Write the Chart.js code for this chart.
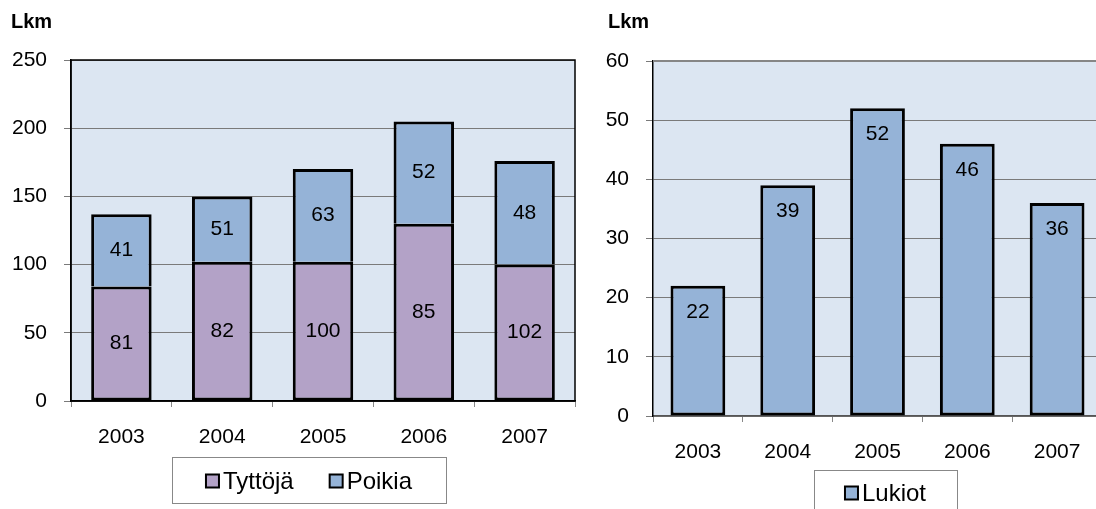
<!DOCTYPE html>
<html>
<head>
<meta charset="utf-8">
<script src="https://cdn.jsdelivr.net/npm/chart.js@4"></script>
<style>
  body { margin: 0; background: #fff; width: 1096px; height: 509px; overflow: hidden; position: relative; }
  #left { position: absolute; left: 0; top: 0; }
  #right { position: absolute; left: 560px; top: 0; }
</style>
</head>
<body>
<canvas id="left" width="600" height="509"></canvas>
<canvas id="right" width="560" height="509"></canvas>
<script>
const years = ['2003', '2004', '2005', '2006', '2007'];

// bar heights as they are drawn in the picture
const tyttoja = [84, 102, 102, 130, 100];
const poikia = [53, 48, 68, 75, 76];
// numbers printed inside the bars (they don't match the heights)
const tyttojaLabels = [81, 82, 100, 85, 102];
const poikiaLabels = [41, 51, 63, 52, 48];

const lukiot = [22, 39, 52, 46, 36];

Chart.defaults.font.family = '"Liberation Sans", Arial, sans-serif';
Chart.defaults.color = '#000';

const PLOT_BG = '#DCE6F2';
const PURPLE = '#B3A2C7';
const BLUE = '#95B3D7';

// background, frame, "Lkm", value labels and boxed legend
const excelLook = {
  id: 'excelLook',
  beforeDraw(chart, args, o) {
    const { ctx, chartArea: a } = chart;
    ctx.save();
    ctx.fillStyle = PLOT_BG;
    ctx.fillRect(a.left, a.top, a.right - a.left, a.bottom - a.top);
    ctx.restore();
  },
  afterDatasetsDraw(chart, args, o) {
    const { ctx, chartArea: a } = chart;
    ctx.save();

    // frame round the plot
    if (o.frame) {
      ctx.strokeStyle = '#000';
      ctx.lineWidth = 1.5;
      ctx.strokeRect(a.left, a.top, a.right - a.left, a.bottom - a.top);
    } else {
      ctx.strokeStyle = '#868686';
      ctx.lineWidth = 2;
      ctx.beginPath();
      ctx.moveTo(a.left, a.top);
      ctx.lineTo(a.right, a.top);
      ctx.stroke();
    }

    // value labels
    ctx.font = '21px "Liberation Sans", Arial, sans-serif';
    ctx.fillStyle = '#000';
    ctx.textAlign = 'center';
    ctx.textBaseline = 'middle';
    chart.data.datasets.forEach((ds, i) => {
      chart.getDatasetMeta(i).data.forEach((bar, j) => {
        const txt = ds.valueLabels[j];
        const y = o.labelPos === 'center' ? (bar.y + bar.base) / 2 : bar.y + 26;
        ctx.fillText(txt, bar.x, y);
      });
    });

    // axis title
    ctx.font = 'bold 20px "Liberation Sans", Arial, sans-serif';
    ctx.textAlign = 'left';
    ctx.fillText('Lkm', o.titleX, 22);

    // legend in a box
    const lg = o.legend;
    ctx.strokeStyle = '#888';
    ctx.lineWidth = 1;
    ctx.strokeRect(lg.x + 0.5, lg.y + 0.5, lg.w, lg.h);
    ctx.font = '24px "Liberation Sans", Arial, sans-serif';
    const sw = 13, gapTxt = 4, gapItem = 36;
    const widths = chart.data.datasets.map(ds => sw + gapTxt + ctx.measureText(ds.label).width);
    const total = widths.reduce((s, w) => s + w, 0) + gapItem * (widths.length - 1);
    let x = lg.x + (lg.w - total) / 2;
    const cy = lg.cy;
    chart.data.datasets.forEach((ds, i) => {
      ctx.fillStyle = ds.backgroundColor;
      ctx.fillRect(x, cy - sw / 2, sw, sw);
      ctx.strokeStyle = '#000';
      ctx.lineWidth = 2;
      ctx.strokeRect(x, cy - sw / 2, sw, sw);
      ctx.fillStyle = '#000';
      ctx.fillText(ds.label, x + sw + gapTxt, cy + 1);
      x += widths[i] + gapItem;
    });

    ctx.restore();
  }
};

new Chart(document.getElementById('left'), {
  type: 'bar',
  data: {
    labels: years,
    datasets: [
      { label: 'Tyttöjä', data: tyttoja, valueLabels: tyttojaLabels, backgroundColor: PURPLE,
        borderColor: '#000', borderWidth: 3, borderSkipped: false },
      // no bottom edge so the join between the two parts is a single line
      { label: 'Poikia', data: poikia, valueLabels: poikiaLabels, backgroundColor: BLUE,
        borderColor: '#000', borderWidth: 3, borderSkipped: 'bottom' }
    ]
  },
  options: {
    responsive: false,
    animation: false,
    datasets: { bar: { barPercentage: 0.6, categoryPercentage: 1 } },
    layout: { padding: { top: 60, right: 25, bottom: 58, left: 0 } },
    plugins: {
      legend: { display: false },
      tooltip: { enabled: false },
      excelLook: { frame: true, labelPos: 'center', titleX: 11,
        legend: { x: 172, y: 457, w: 274, h: 46, cy: 481 } }
    },
    scales: {
      x: {
        stacked: true,
        grid: { drawOnChartArea: false, tickLength: 6, color: '#888', offset: true },
        border: { color: '#000', width: 1.5 },
        ticks: { font: { size: 21 }, padding: 18 },
        afterFit(s) { s.height = 50; }
      },
      y: {
        stacked: true,
        min: 0,
        max: 250,
        ticks: { stepSize: 50, font: { size: 21 }, padding: 17 },
        grid: { color: '#7a7a7a', tickLength: 7 },
        border: { color: '#000', width: 1.5 },
        afterFit(s) { s.width = 71; }
      }
    }
  },
  plugins: [excelLook]
});

new Chart(document.getElementById('right'), {
  type: 'bar',
  data: {
    labels: years,
    datasets: [
      { label: 'Lukiot', data: lukiot, valueLabels: lukiot, backgroundColor: BLUE,
        borderColor: '#000', borderWidth: 3, borderSkipped: false }
    ]
  },
  options: {
    responsive: false,
    animation: false,
    datasets: { bar: { barPercentage: 0.61, categoryPercentage: 1 } },
    layout: { padding: { top: 61, right: 18, bottom: 43, left: 0 } },
    plugins: {
      legend: { display: false },
      tooltip: { enabled: false },
      excelLook: { frame: false, labelPos: 'insideEnd', titleX: 48,
        legend: { x: 254, y: 470, w: 143, h: 60, cy: 493 } }
    },
    scales: {
      x: {
        grid: { drawOnChartArea: false, tickLength: 6, color: '#888', offset: true },
        border: { color: '#555', width: 1.5 },
        ticks: { font: { size: 21 }, padding: 18 },
        afterFit(s) { s.height = 50; }
      },
      y: {
        min: 0,
        max: 60,
        ticks: { stepSize: 10, font: { size: 21 }, padding: 17 },
        grid: { color: '#7a7a7a', tickLength: 7 },
        border: { color: '#000', width: 1.5 },
        afterFit(s) { s.width = 93; }
      }
    }
  },
  plugins: [excelLook]
});
</script>
</body>
</html>
